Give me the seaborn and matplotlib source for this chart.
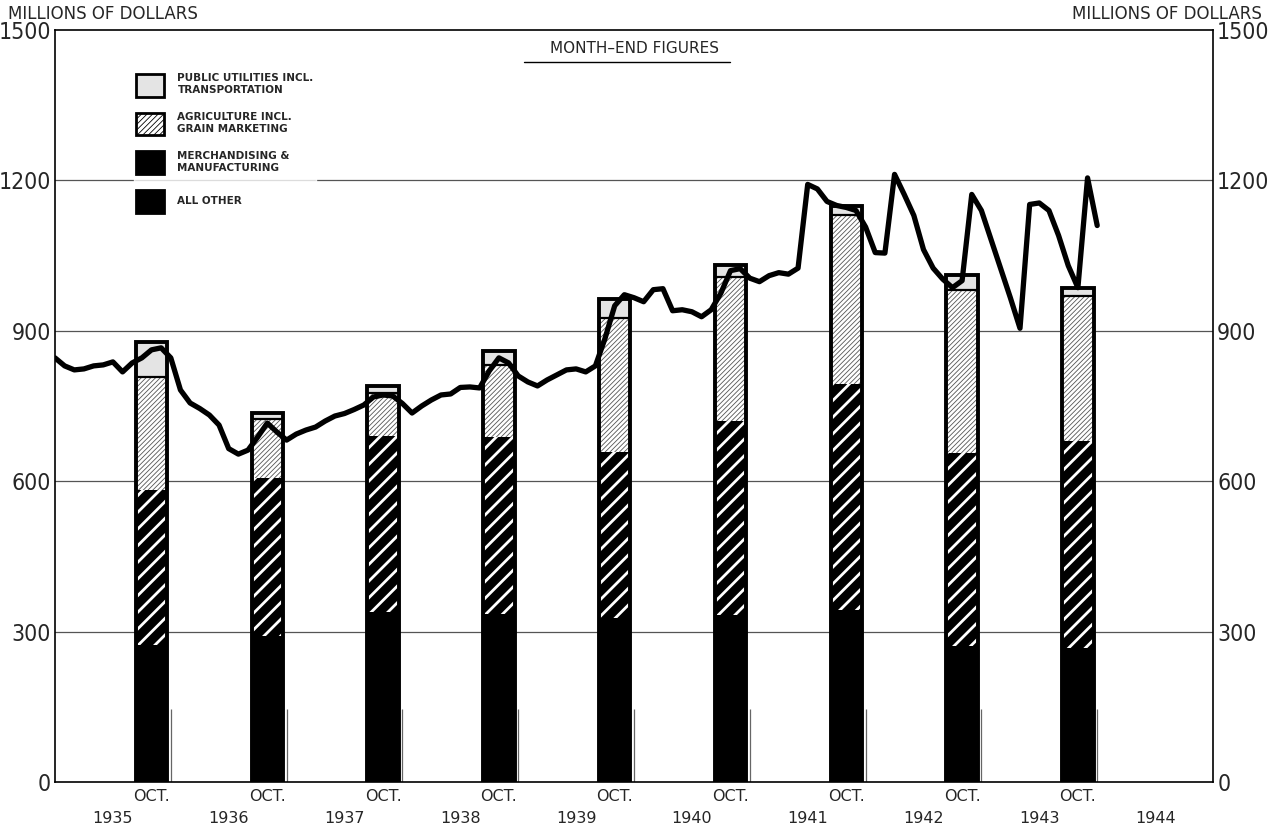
import numpy as np
import pandas as pd
import matplotlib
matplotlib.use("Agg")
import matplotlib.pyplot as plt
from matplotlib import font_manager
import seaborn as sns
from matplotlib.patches import Patch

# ---------------- data ----------------
years = [1935, 1936, 1937, 1938, 1939, 1940, 1941, 1942, 1943]
all_other = [273, 291, 339, 335, 327, 333, 343, 271, 267]
merchandising = [309, 315, 351, 353, 331, 387, 451, 385, 413]
agriculture = [226, 119, 86, 144, 268, 287, 337, 325, 289]
public_utilities = [70, 11, 14, 28, 38, 24, 18, 30, 16]

# month-end totals, starting with end of Dec 1934, through Dec 1943
line_values = [
    846, 830, 822, 824, 830, 832, 838, 818, 836, 846, 862, 866,
    846, 782, 756, 745, 732, 712, 665, 654, 662, 688, 716, 698,
    682, 694, 702, 708, 720, 730, 735, 743, 752, 768, 772, 770,
    755, 736, 750, 762, 772, 774, 787, 788, 786, 820, 846, 836,
    810, 798, 790, 802, 812, 822, 824, 818, 830, 885, 950, 972,
    966, 958, 982, 984, 940, 942, 938, 928, 942, 975, 1020, 1024,
    1005, 998, 1010, 1016, 1013, 1025, 1192, 1183, 1158, 1150, 1146, 1140,
    1107, 1056, 1055, 1212, 1172, 1130, 1062, 1025, 1003, 986, 1000, 1172,
    1140, 1082, 1024, 966, 905, 1152, 1155, 1140, 1090, 1030, 986, 1205,
    1110,
]
year_labels = ["1935", "1936", "1937", "1938", "1939", "1940", "1941", "1942", "1943", "1944"]
y_ticks = [0, 300, 600, 900, 1200, 1500]

legend_labels = [
    "PUBLIC UTILITIES INCL.\nTRANSPORTATION",
    "AGRICULTURE INCL.\nGRAIN MARKETING",
    "MERCHANDISING &\nMANUFACTURING",
    "ALL OTHER",
]

# ---------------- derived ----------------
bar_x = np.array(years) + 10 / 12.0
c1 = np.array(all_other)
c2 = c1 + np.array(merchandising)
c3 = c2 + np.array(agriculture)
c4 = c3 + np.array(public_utilities)
line_t = 1935 + np.arange(len(line_values)) / 12.0

bars = pd.DataFrame({"x": bar_x, "c1": c1, "c2": c2, "c3": c3, "c4": c4})
line_df = pd.DataFrame({"t": line_t, "v": line_values})

sns.set_theme(style="white")
plt.rcParams["font.family"] = ["DejaVu Sans"]
plt.rcParams["hatch.linewidth"] = 0.6

# find a narrow font for the big axis numbers
narrow_path = None
for f in font_manager.fontManager.ttflist:
    n = f.name.lower()
    fn = f.fname.lower()
    if ("narrow" in n or "condensed" in n or "narrow" in fn or "condensed" in fn) \
            and f.weight in (400, "normal", "regular") and f.style == "normal":
        narrow_path = f.fname
        break
if narrow_path:
    num_font = font_manager.FontProperties(fname=narrow_path, size=16.5)
else:
    num_font = font_manager.FontProperties(family="DejaVu Sans", size=14)

fig = plt.figure(figsize=(12.69, 8.32), dpi=100)
ax = fig.add_axes([55 / 1269, 1 - 782 / 832, (1213 - 55) / 1269, (782 - 30) / 832])

BW = 0.27


def draw(col, face, hatch=None, hcolor=None, hlw=None, z=2):
    n_before = len(ax.patches)
    sns.barplot(data=bars, x="x", y=col, native_scale=True, width=BW,
                color=face, ax=ax, errorbar=None, saturation=1)
    for p in ax.patches[n_before:]:
        p.set_facecolor(face)
        p.set_zorder(z)
        p.set_linewidth(0)
        if hatch:
            p.set_hatch(hatch)
            p.set_edgecolor(hcolor)
            if hlw is not None and hasattr(p, "set_hatch_linewidth"):
                p.set_hatch_linewidth(hlw)
        else:
            p.set_edgecolor(face)


def outline(col, lw):
    n_before = len(ax.patches)
    sns.barplot(data=bars, x="x", y=col, native_scale=True, width=BW,
                fill=False, color="black", ax=ax, errorbar=None, linewidth=lw)
    for p in ax.patches[n_before:]:
        p.set_facecolor("none")
        p.set_edgecolor("black")
        p.set_linewidth(lw)
        p.set_zorder(2.5)


draw("c4", "#e4e4e4")
draw("c3", "white", hatch="///////", hcolor="#555555", hlw=0.6)
draw("c2", "black", hatch="//", hcolor="white", hlw=2.0)
draw("c1", "black")
outline("c3", 1.6)
outline("c4", 2.8)

# line
sns.lineplot(data=line_df, x="t", y="v", color="black", linewidth=3.8, ax=ax,
             zorder=3, estimator=None)

# grid lines
for v in [300, 600, 900, 1200]:
    ax.axhline(v, color="#555555", lw=0.9, zorder=0.5)
# thin year markers near baseline
ax.vlines(np.arange(1936, 1945), 0, 145, color="#666666", lw=0.9, zorder=0.5)

ax.set_xlim(1935, 1945)
ax.set_ylim(0, 1500)
ax.set_xlabel("")
ax.set_ylabel("")

# ticks
ax.set_xticks(bar_x)
ax.set_xticklabels(["OCT."] * len(bar_x), fontsize=11.5)
ax.set_xticks(np.arange(1935, 1945) + 0.5, minor=True)
ax.set_xticklabels(year_labels, minor=True, fontsize=11.5)
ax.tick_params(axis="x", which="major", length=0, pad=5)
ax.tick_params(axis="x", which="minor", length=0, pad=21)

ax.set_yticks(y_ticks)
ax.set_yticklabels([str(v) for v in y_ticks])
ax.tick_params(axis="y", length=0, pad=3, labelright=True, labelleft=True)
for tk in ax.yaxis.get_major_ticks():
    tk.label1.set_fontproperties(num_font)
    tk.label2.set_fontproperties(num_font)

for s in ax.spines.values():
    s.set_visible(True)
    s.set_color("black")
    s.set_linewidth(1.2)

# headers
fig.text(8 / 1269, 1 - 14 / 832, "MILLIONS OF DOLLARS", fontsize=12,
         ha="left", va="center")
fig.text(1262 / 1269, 1 - 14 / 832, "MILLIONS OF DOLLARS", fontsize=12,
         ha="right", va="center")

ax.text(0.5, 0.976, "MONTH\u2013END FIGURES", transform=ax.transAxes,
        ha="center", va="center", fontsize=11)
ax.plot([0.405, 0.583], [0.957, 0.957], transform=ax.transAxes, color="black",
        lw=1.0)

# legend
handles = [
    Patch(facecolor="#e4e4e4", edgecolor="black", linewidth=2),
    Patch(facecolor="white", edgecolor="#444444", hatch="//////", linewidth=2),
    Patch(facecolor="black", edgecolor="white", hatch="//", linewidth=2),
    Patch(facecolor="black", edgecolor="black", linewidth=2),
]
leg = ax.legend(handles, legend_labels, loc="upper left",
                bbox_to_anchor=(0.068, 0.945), frameon=True, fontsize=7.5,
                handlelength=2.7, handleheight=3.0, labelspacing=1.5,
                borderpad=0.2, handletextpad=1.3, borderaxespad=0)
leg.get_frame().set_facecolor("white")
leg.get_frame().set_edgecolor("white")
leg.set_zorder(4)
for t in leg.get_texts():
    t.set_fontweight("bold")
for h in leg.legend_handles:
    h.set_edgecolor("black")

fig.savefig("out.png", dpi=100)
